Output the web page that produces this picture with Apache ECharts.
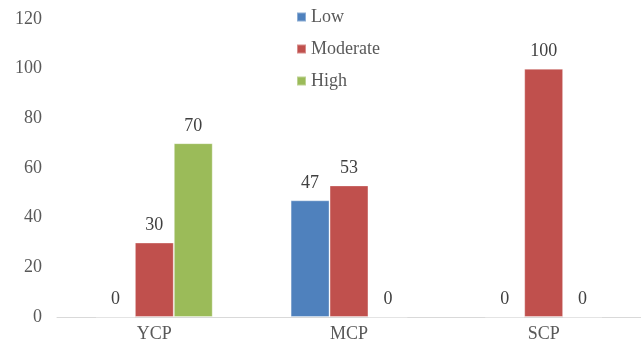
<!DOCTYPE html>
<html>
<head>
<meta charset="utf-8">
<script src="https://cdn.jsdelivr.net/npm/echarts@6/dist/echarts.min.js"></script>
<style>
  html, body { margin: 0; padding: 0; background: #fff; }
  #chart { width: 641px; height: 346px; }
</style>
</head>
<body>
<div id="chart"></div>
<script>
// Risk-level shares (%) for each group
const categories = ['YCP', 'MCP', 'SCP'];
const lowValues = [0, 47, 0];
const moderateValues = [30, 53, 100];
const highValues = [70, 0, 0];
const yTicks = [0, 20, 40, 60, 80, 100, 120];

const serif = '"Liberation Serif", "Times New Roman", serif';

function barSeries(name, data, color) {
  return {
    name: name,
    type: 'bar',
    data: data,
    barGap: '0%',
    barCategoryGap: '40%',
    itemStyle: { color: color, borderColor: 'rgba(255,255,255,0.35)', borderWidth: 1 },
    label: {
      show: true,
      position: 'top',
      distance: 8,
      fontFamily: serif,
      fontSize: 18,
      color: '#404040'
    }
  };
}

const chart = echarts.init(document.getElementById('chart'), null, { renderer: 'canvas' });
chart.setOption({
  animation: false,
  backgroundColor: '#ffffff',
  grid: { left: 57, right: 0, top: 19, bottom: 29, containLabel: false },
  legend: {
    orient: 'vertical',
    left: 291,
    top: 3,
    itemWidth: 9,
    itemHeight: 9,
    itemGap: 14,
    icon: 'rect',
    textStyle: { fontFamily: serif, fontSize: 18, color: '#595959' },
    data: ['Low', 'Moderate', 'High']
  },
  xAxis: {
    type: 'category',
    data: categories,
    axisLine: { lineStyle: { color: '#d9d9d9', width: 1 } },
    axisTick: { show: false },
    axisLabel: { fontFamily: serif, fontSize: 18, color: '#595959', margin: 8 }
  },
  yAxis: {
    type: 'value',
    min: yTicks[0],
    max: yTicks[yTicks.length - 1],
    interval: yTicks[1] - yTicks[0],
    axisLine: { show: false },
    axisTick: { show: false },
    splitLine: { show: false },
    axisLabel: { fontFamily: serif, fontSize: 18, color: '#595959', margin: 15 }
  },
  series: [
    barSeries('Low', lowValues, '#4f81bd'),
    barSeries('Moderate', moderateValues, '#c0504d'),
    barSeries('High', highValues, '#9bbb59')
  ]
});
</script>
</body>
</html>
